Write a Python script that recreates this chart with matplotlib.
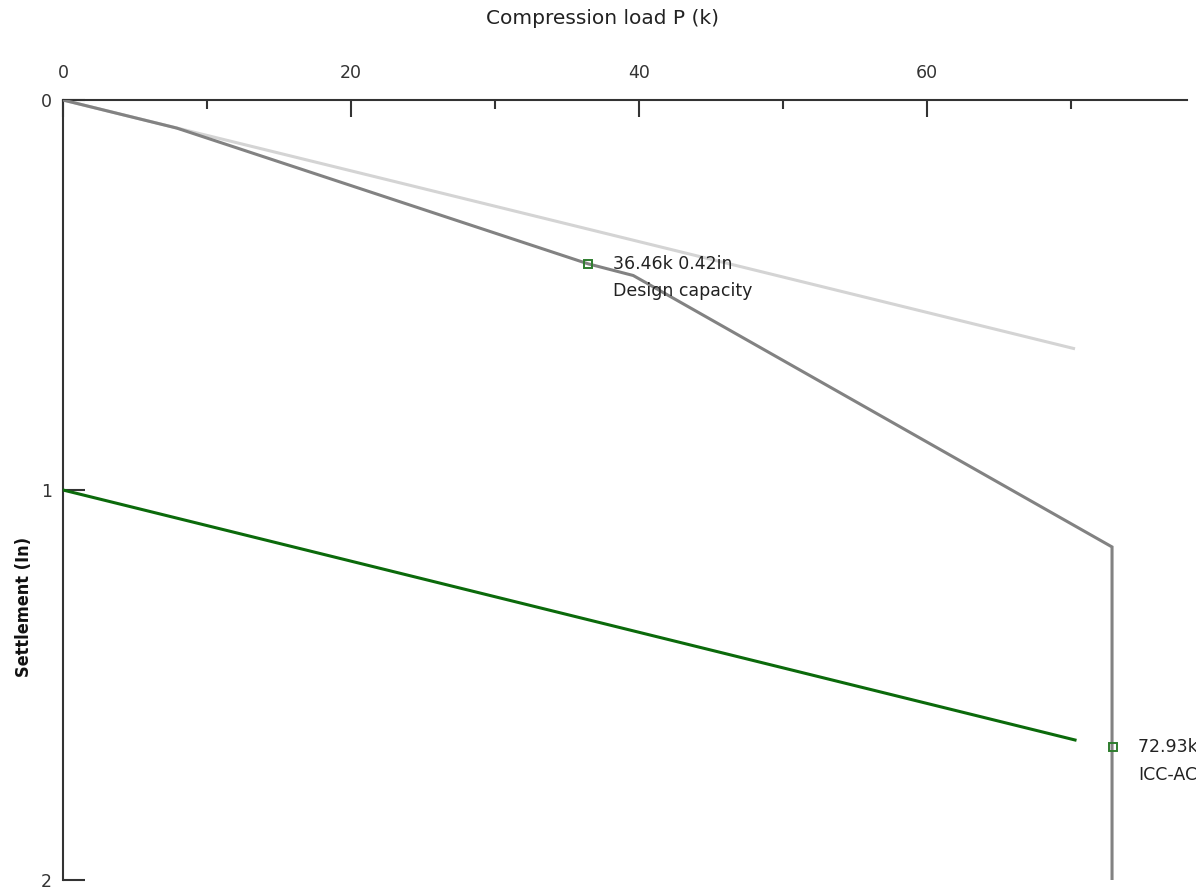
import matplotlib
matplotlib.use("Agg")
import matplotlib.pyplot as plt

# Data
light_x = [0, 70.28]
light_y = [0, 0.638]

curve_x = [0, 7.9, 36.46, 39.6, 72.85, 72.85]
curve_y = [0, 0.072, 0.42, 0.45, 1.146, 2.0]

green_x = [0, 70.28]
green_y = [1.0, 1.641]

design_pt = (36.46, 0.42)
icc_pt = (72.93, 1.66)
design_lines = ["36.46k 0.42in", "Design capacity"]
icc_lines = ["72.93k 1.66in", "ICC-AC358"]

x_major = [0, 20, 40, 60]
x_minor = [10, 30, 50, 70]
y_ticks = [0, 1, 2]

W, H = 1196, 894
fig = plt.figure(figsize=(W / 100, H / 100), dpi=100)
ax = fig.add_axes([63 / W, 1 - 880 / H, (1187 - 63) / W, (880 - 100) / H])

ax.plot(light_x, light_y, color="#d4d4d4", lw=2.2, solid_capstyle="butt", zorder=2)
ax.plot(curve_x, curve_y, color="#828282", lw=2.2, solid_joinstyle="miter", zorder=3)
ax.plot(green_x, green_y, color="#0b6a0b", lw=2.2, zorder=3)

for pt in (design_pt, icc_pt):
    ax.plot([pt[0]], [pt[1]], marker="s", ms=6, mfc="none", mec="#2e7d2e", mew=1.4, zorder=4)

for pt, lines in ((design_pt, design_lines), (icc_pt, icc_lines)):
    for i, line in enumerate(lines):
        ax.annotate(line, xy=pt, xytext=(25, -27.5 * i), textcoords="offset pixels",
                    ha="left", va="center", fontsize=12.5, color="#222222",
                    annotation_clip=False)

ax.set_xlim(0, (1187 - 63) / 14.4)
ax.set_ylim(2, 0)

for s in ("right", "bottom"):
    ax.spines[s].set_visible(False)
for s in ("top", "left"):
    ax.spines[s].set_linewidth(1.5)
    ax.spines[s].set_color("#333333")

ax.xaxis.tick_top()
ax.set_xticks(x_major)
ax.set_xticks(x_minor, minor=True)
ax.set_xticklabels([str(v) for v in x_major])
ax.tick_params(axis="x", which="major", direction="in", length=12, width=1.5,
               color="#333333", pad=13, labelsize=12.5, labelcolor="#333333")
ax.tick_params(axis="x", which="minor", direction="in", length=6.5, width=1.5,
               color="#333333")
ax.set_yticks(y_ticks)
ax.set_yticklabels([str(v) for v in y_ticks])
ax.tick_params(axis="y", which="major", direction="in", length=16, width=1.5,
               color="#333333", pad=8, labelsize=12.5, labelcolor="#333333")

fig.text(602 / W, 1 - 19 / H, "Compression load P (k)", ha="center", va="center",
         fontsize=14.5, color="#222222")
fig.text(24 / W, 1 - 607 / H, "Settlement (In)", ha="center", va="center",
         rotation=90, fontsize=13, fontweight="bold", fontstretch="condensed",
         color="#111111")

fig.savefig("out.png", dpi=100)
